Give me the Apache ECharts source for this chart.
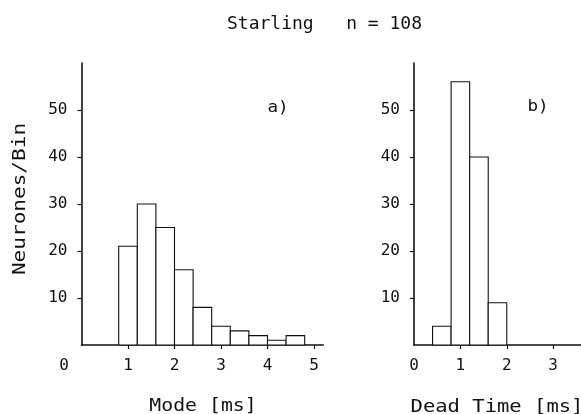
<!DOCTYPE html>
<html>
<head>
<meta charset="utf-8">
<script src="https://cdn.jsdelivr.net/npm/echarts@6/dist/echarts.min.js"></script>
<style>
html,body{margin:0;padding:0;background:#fff;}
#chart{width:581px;height:414px;}
</style>
</head>
<body>
<div id="chart"></div>
<script>
// ---- data ----
const titleText = 'Starling   n = 108';
const modeEdges = [0.8, 1.2, 1.6, 2.0, 2.4, 2.8, 3.2, 3.6, 4.0, 4.4, 4.8];
const modeCounts = [21, 30, 25, 16, 8, 4, 3, 2, 1, 2];
const deadEdges = [0.4, 0.8, 1.2, 1.6, 2.0];
const deadCounts = [4, 56, 40, 9];
const modeTicks = [0, 1, 2, 3, 4, 5];
const deadTicks = [0, 1, 2, 3];
const yTicks = [10, 20, 30, 40, 50];
const panelLabels = ['a)', 'b)'];
const xNames = ['Mode [ms]', 'Dead Time [ms]'];
const yName = 'Neurones/Bin';

function bins(edges, counts) {
  return counts.map((c, i) => [edges[i], edges[i + 1], c]);
}

const FONT = '"DejaVu Sans Mono", "Liberation Mono", monospace';
const black = '#111';

function renderBar(params, api) {
  const p0 = api.coord([api.value(0), api.value(2)]);
  const p1 = api.coord([api.value(1), 0]);
  return {
    type: 'rect',
    shape: { x: p0[0], y: p0[1], width: p1[0] - p0[0], height: p1[1] - p0[1] },
    style: { fill: '#fff', stroke: black, lineWidth: 1.1 }
  };
}

function xAxisCfg(idx, max, ticks, shiftZero) {
  return {
    type: 'value', gridIndex: idx, min: 0, max: max, interval: 1,
    axisLine: { show: true, onZero: false, lineStyle: { color: black, width: 1.6 } },
    axisTick: { show: true, inside: false, length: 4, customValues: ticks.filter(v => v > 0), lineStyle: { color: black, width: 1.2 } },
    axisLabel: {
      customValues: ticks, margin: 13, color: black, fontFamily: FONT, fontSize: 16,
      formatter: function (v) { return (shiftZero && v === 0) ? '{z|0}' : String(v); },
      rich: { z: { fontFamily: FONT, fontSize: 16, color: black, padding: [0, 35, 0, 0] } }
    },
    splitLine: { show: false }
  };
}
function yAxisCfg(idx) {
  return {
    type: 'value', gridIndex: idx, min: 0, max: 60, interval: 10,
    axisLine: { show: true, lineStyle: { color: black, width: 1.6 } },
    axisTick: { show: true, inside: false, length: 4, customValues: yTicks, lineStyle: { color: black, width: 1.2 } },
    axisLabel: { customValues: yTicks, margin: 14, color: black, fontFamily: FONT, fontSize: 16 },
    splitLine: { show: false }
  };
}

function txt(text, x, y, size, scaleX, rotation) {
  return {
    type: 'text', x: x, y: y, scaleX: scaleX || 1, rotation: rotation || 0,
    style: { text: text, x: 0, y: 0, font: size + 'px ' + FONT, fill: black, textAlign: 'center', textVerticalAlign: 'middle' }
  };
}

const chart = echarts.init(document.getElementById('chart'), null, { renderer: 'canvas' });
chart.setOption({
  animation: false,
  backgroundColor: '#fff',
  grid: [
    { left: 81.5, top: 63, width: 241.8, bottom: 69 },
    { left: 414, top: 63, width: 167.4, bottom: 69 }
  ],
  xAxis: [xAxisCfg(0, 5.2, modeTicks, true), xAxisCfg(1, 3.6, deadTicks, false)],
  yAxis: [yAxisCfg(0), yAxisCfg(1)],
  series: [
    { type: 'custom', xAxisIndex: 0, yAxisIndex: 0, renderItem: renderBar, data: bins(modeEdges, modeCounts), encode: { x: [0, 1], y: 2 } },
    { type: 'custom', xAxisIndex: 1, yAxisIndex: 1, renderItem: renderBar, data: bins(deadEdges, deadCounts), encode: { x: [0, 1], y: 2 } }
  ],
  graphic: [
    txt(titleText, 324.5, 24, 18, 1),
    txt(panelLabels[0], 278, 108, 16, 1.1),
    txt(panelLabels[1], 538, 107, 16, 1.1),
    txt(xNames[0], 203, 406, 18, 1.1),
    txt(xNames[1], 497, 407, 18, 1.14),
    txt(yName, 20, 199, 18, 1.17, Math.PI / 2)
  ]
});
</script>
</body>
</html>
